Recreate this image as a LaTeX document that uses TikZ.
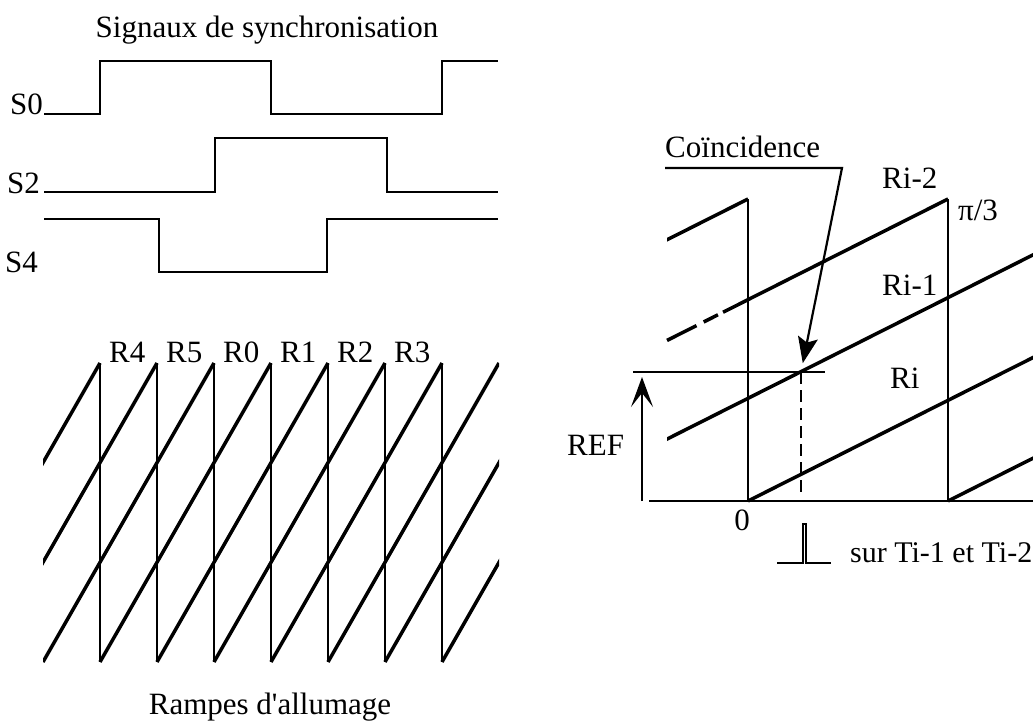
\documentclass[tikz,border=0pt]{standalone}
\usepackage{fontspec}
\setmainfont{Liberation Serif}
\usetikzlibrary{arrows.meta,calc}

\begin{document}
\begin{tikzpicture}[x=1pt, y=-1pt,
  lbl/.style={inner sep=0pt, font=\fontsize{31}{36}\selectfont},
  sig/.style={line width=2.2pt},
  ramp/.style={line width=3.5pt},
  drop/.style={line width=2.2pt},
  reftip/.style={-{Stealth[length=30pt,width=22pt,inset=14pt]}},
  cointip/.style={-{Stealth[length=26pt,width=20pt,inset=5pt]}}]
\useasboundingbox (0,0) rectangle (1033,723);

% signaux de synchronisation
\node[lbl, anchor=base] (sigtitle) at (267,37) {Signaux de synchronisation};
\node[lbl, anchor=base east] (lblS0) at (43,114) {S0};
\node[lbl, anchor=base east] (lblS2) at (40,193) {S2};
\node[lbl, anchor=base east] (lblS4) at (38,272) {S4};
\draw[sig] (44,114) -- (100,114) -- (100,61) -- (271,61) -- (271,114)
  -- (442,114) -- (442,61) -- (498,61);
\draw[sig] (44,192) -- (215,192) -- (215,138) -- (387,138) -- (387,192) -- (498,192);
\draw[sig] (44,219) -- (159,219) -- (159,272) -- (327,272) -- (327,219) -- (498,219);

% rampes d'allumage
\begin{scope}
  \clip (43,340) rectangle (499,680);
  \foreach \k in {-3,...,6}
    \draw[ramp] ({100+57*\k},662) -- ({100+57*(\k+3)},363);
\end{scope}
\foreach \k in {0,...,6}
  \draw[drop] ({100+57*\k},363) -- ({100+57*\k},662);
\foreach \r [count=\k from 0] in {R4,R5,R0,R1,R2,R3}
  \node[lbl, anchor=base west] (ramp\r) at ({109+57*\k},362) {\r};
\node[lbl, anchor=base] (ramptitle) at (270,714) {Rampes d\textquotesingle allumage};

% coincidence
\coordinate (coin) at (801,372);
\coordinate (ulbend) at (842,168);
\draw[drop] (649,501) -- (1033,501);
\draw[drop] (748,199) -- (748,501);
\draw[drop] (948,199) -- (948,501);
\begin{scope}
  \clip (667,150) rectangle (1033,520);
  \foreach \s in {148,544,748,948}
    \draw[ramp] (\s,501) -- (\s+600,199);
\end{scope}
\draw[ramp, dash pattern=on 33pt off 8pt on 16pt off 6pt]
  ($(348,501)!0.5317!(948,199)$) -- ($(348,501)!0.625!(948,199)$);
\draw[ramp] ($(348,501)!0.625!(948,199)$) -- (948,199);
\draw[drop] (633,372) -- (825,372);
\draw[drop, reftip] (642,501) -- (642,377);
\draw[line width=2.8pt, dash pattern=on 12pt off 6pt] (coin) -- (801,492);
\node[lbl, anchor=base west] (lblcoin) at (665,157) {Coïncidence};
\draw[drop, cointip, shorten >=9pt] (lblcoin.base west |- ulbend) -- (ulbend) -- (coin);
\node[lbl, anchor=base west] (lblRi2) at (882,188) {Ri-2};
\node[lbl, anchor=base west] (lblpi) at (958,220) {π/3};
\node[lbl, anchor=base west] (lblRi1) at (882,295) {Ri-1};
\node[lbl, anchor=base west] (lblRi) at (890,388) {Ri};
\node[lbl, anchor=base west] (lblREF) at (567,455) {REF};
\node[lbl, anchor=base] (lblzero) at (742,530) {0};
\draw[sig] (777,563) -- (803,563) -- (803,524) -- (806,524) -- (806,563) -- (831,563);
\node[lbl, anchor=base west, font=\fontsize{30}{36}\selectfont] (lblsur) at (850,562) {sur Ti-1 et Ti-2};
\end{tikzpicture}
\end{document}
